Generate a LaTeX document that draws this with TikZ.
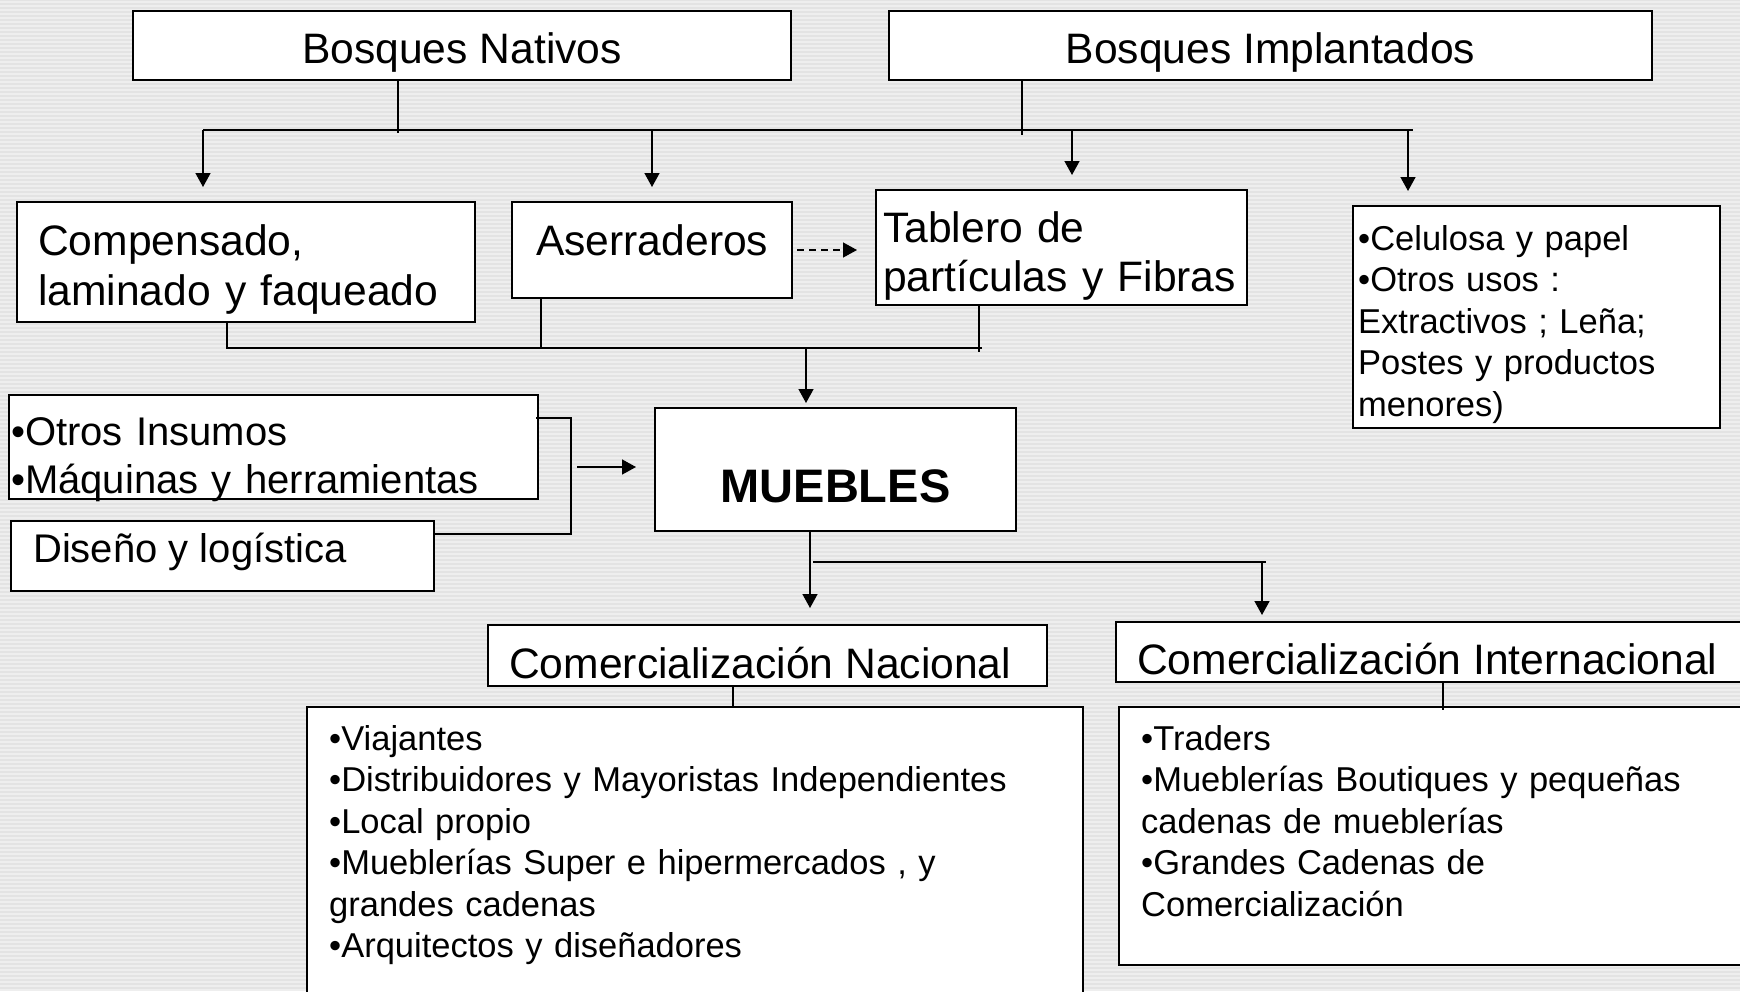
\documentclass[tikz,border=0pt]{standalone}
\usepackage{fontspec}
\setmainfont{Liberation Sans}
\usetikzlibrary{arrows.meta,calc}

\definecolor{fondo}{HTML}{E3E3E3}
\definecolor{raya}{HTML}{EEEEEE}

\tikzset{
  caja/.style={draw, fill=white, line width=1.5pt, inner sep=0pt, outer sep=0pt, anchor=north west},
  linea/.style={line width=1.5pt},
  flecha/.style={line width=1.5pt, -{Triangle[width=15pt,length=14pt]}},
  txt/.style={inner sep=0pt, anchor=base west, align=left},
  titulo/.style={font=\fontsize{42.6}{50}\selectfont},
  medio/.style={font=\fontsize{40}{48}\selectfont},
  lista/.style={font=\fontsize{34.5}{41.5}\selectfont},
}

\begin{document}
\begin{tikzpicture}[x=1pt, y=-1pt]
  \path[use as bounding box, clip] (0,0) rectangle (1740,991);
  \fill[fondo] (0,0) rectangle (1740,991);
  \foreach \y in {1,5,...,989}
    \fill[raya] (0,\y) rectangle (1740,\y+1.5);

  % cajas
  \node[caja, minimum width=658pt, minimum height=69pt] (nat) at (133,11) {};
  \node[caja, minimum width=763pt, minimum height=69pt] (imp) at (889,11) {};
  \node[caja, minimum width=458pt, minimum height=120pt] (comp) at (17,202) {};
  \node[caja, minimum width=280pt, minimum height=96pt] (aser) at (512,202) {};
  \node[caja, minimum width=371pt, minimum height=115pt] (tab) at (876,190) {};
  \node[caja, minimum width=367pt, minimum height=222pt] (cel) at (1353,206) {};
  \node[caja, minimum width=529pt, minimum height=104pt] (otr) at (9,395) {};
  \node[caja, minimum width=423pt, minimum height=70pt] (dis) at (11,521) {};
  \node[caja, minimum width=361pt, minimum height=123pt] (mue) at (655,408) {};
  \node[caja, minimum width=559pt, minimum height=61pt] (cnac) at (488,625) {};
  \node[caja, minimum width=660pt, minimum height=60pt] (cint) at (1116,622) {};
  \node[caja, minimum width=776pt, minimum height=310pt] (lnac) at (307,707) {};
  \node[caja, minimum width=660pt, minimum height=258pt] (lint) at (1119,707) {};

  % textos
  \node[txt, titulo, anchor=base] (tnat) at ($(nat.north)+(0,52)$) {Bosques Nativos};
  \node[txt, titulo, anchor=base] (timp) at ($(imp.north)+(0,52)$) {Bosques Implantados};
  \node[txt, titulo, text width=440pt] (tcomp) at ($(comp.north west)+(21,53)$) {Compensado,\\laminado y faqueado};
  \node[txt, titulo] (taser) at ($(aser.north west)+(24,53)$) {Aserraderos};
  \node[txt, font=\fontsize{42.6}{49}\selectfont, text width=360pt] (ttab) at ($(tab.north west)+(7,52)$) {Tablero de\\partículas y Fibras};
  \node[txt, lista, text width=360pt] (tcel) at ($(cel.north west)+(5,44)$) {•Celulosa y papel\\•Otros usos :\\Extractivos ; Leña;\\Postes y productos\\menores)};
  \node[txt, medio, text width=520pt] (totr) at ($(otr.north west)+(2,50)$) {•Otros Insumos\\•Máquinas y herramientas};
  \node[txt, medio] (tdis) at ($(dis.north west)+(22,41)$) {Diseño y logística};
  \node[txt, anchor=base, font=\fontsize{47}{56}\bfseries\selectfont] (tmue) at ($(mue.north)+(0,94)$) {MUEBLES};
  \node[txt, titulo] (tcnac) at ($(cnac.north west)+(21,53)$) {Comercialización Nacional};
  \node[txt, titulo] (tcint) at ($(cint.north west)+(21,52)$) {Comercialización Internacional};
  \node[txt, lista, text width=740pt] (tlnac) at ($(lnac.north west)+(22,43)$) {•Viajantes\\•Distribuidores y Mayoristas Independientes\\•Local propio\\•Mueblerías Super e hipermercados , y\\grandes cadenas\\•Arquitectos y diseñadores};
  \node[txt, lista, text width=600pt] (tlint) at ($(lint.north west)+(22,43)$) {•Traders\\•Mueblerías Boutiques y pequeñas\\cadenas de mueblerías\\•Grandes Cadenas de\\Comercialización};

  % puntos de union
  \coordinate (bn) at (398,130);
  \coordinate (bi) at (1022,130);
  \coordinate (b1) at (203,130);
  \coordinate (b2) at (652,130);
  \coordinate (b3) at (1072,130);
  \coordinate (b4) at (1408,130);
  \coordinate (m1) at (227,348);
  \coordinate (m2) at (541,348);
  \coordinate (m3) at (979,348);
  \coordinate (mm) at (806,348);
  \coordinate (k1) at (571,418);
  \coordinate (k2) at (571,534);
  \coordinate (ka) at (577,467);
  \coordinate (md) at (810,562);
  \coordinate (mi) at (1262,562);
  \coordinate (cn) at (733,708);
  \coordinate (ci) at (1443,710);

  % de los bosques a la industria
  \draw[linea] (nat.south -| bn) -- ([yshift=-3pt]bn);
  \draw[linea] (imp.south -| bi) -- ([yshift=-5pt]bi);
  \draw[linea] (b1) -- ([xshift=5pt]b4);
  \foreach \b/\c in {b1/comp, b2/aser, b3/tab, b4/cel}
    \draw[flecha, shorten >=15pt] (\b) -- (\c.north -| \b);
  \draw[flecha, line width=1.3pt, dash pattern=on 7pt off 5pt, shorten <=5pt, shorten >=19pt]
    (aser.east) -- (aser.east -| tab.west);

  % hacia MUEBLES
  \draw[linea] (comp.south -| m1) |- ([xshift=3pt]m3);
  \draw[linea] (aser.south -| m2) -- (m2);
  \draw[linea] (tab.south -| m3) -- ([yshift=-4pt]m3);
  \draw[flecha, shorten >=5pt] (mm) -- (mue.north -| mm);
  \draw[linea] ([xshift=-2pt]otr.east |- k1) -- (k1) -- (k2) -- (dis.east |- k2);
  \draw[flecha, shorten >=19pt] (ka) -- (ka -| mue.west);

  % comercializacion
  \draw[flecha, shorten >=17pt] (mue.south -| md) -- (cnac.north -| md);
  \draw[linea] ([xshift=3pt]md) -- ([xshift=4pt]mi);
  \draw[flecha, shorten >=7pt] (mi) -- (cint.north -| mi);
  \draw[linea] (cnac.south -| cn) -- (cn);
  \draw[linea] (cint.south -| ci) -- (ci);
\end{tikzpicture}
\end{document}
